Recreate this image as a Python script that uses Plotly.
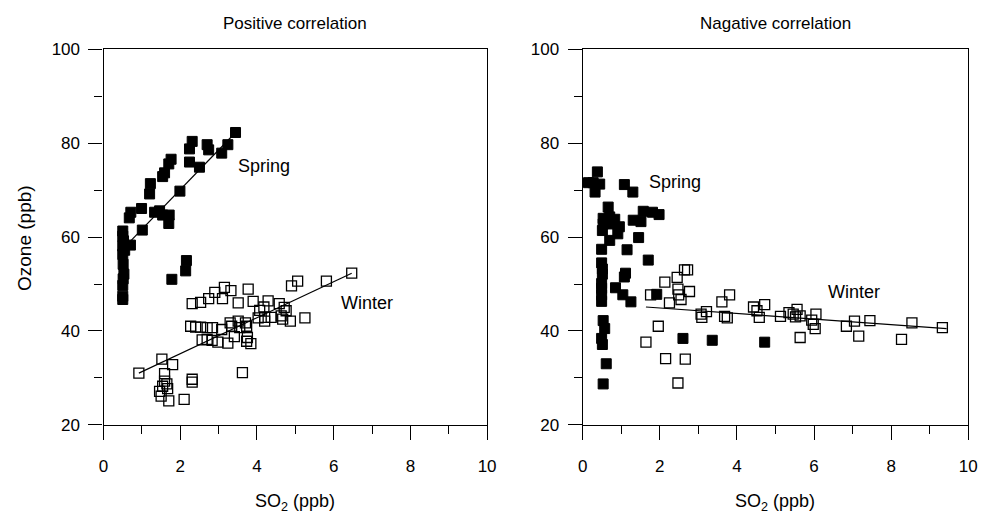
import plotly.graph_objects as go

# ---------------- data ----------------
titles = ["Positive correlation", "Nagative correlation"]
x_title = "SO<sub>2</sub> (ppb)"
y_title = "Ozone (ppb)"

# Left panel: spring (filled squares)
pos_spring_x = [3.44, 3.24, 3.08, 2.70, 2.74, 2.31, 2.24, 2.50, 2.24, 1.99, 1.76, 1.70, 1.59, 1.54,
                1.22, 1.20, 0.99, 0.71, 0.67, 1.33, 1.46, 1.54, 1.71, 1.70, 1.01, 0.70, 0.50, 0.50,
                0.52, 0.50, 0.55, 0.50, 0.51, 0.53, 0.51, 0.50, 0.50, 0.50, 1.78, 2.16, 2.14]
pos_spring_y = [82.3, 79.7, 77.9, 79.7, 78.6, 80.4, 78.8, 74.9, 76.0, 69.8, 76.6, 75.6, 73.7, 72.9,
                71.4, 69.2, 66.1, 65.3, 64.1, 65.3, 65.6, 64.7, 64.7, 62.9, 61.5, 58.3, 61.3, 60.2,
                59.2, 58.1, 57.2, 56.3, 54.2, 52.1, 51.1, 49.7, 47.4, 46.7, 51.0, 55.0, 52.8]
pos_spring_fit_x = [0.60, 3.44]
pos_spring_fit_y = [58.3, 82.3]

# Left panel: winter (open squares)
pos_winter_x = [0.92, 1.52, 1.80, 1.59, 1.59, 1.65, 1.54, 1.67, 1.46, 1.50, 1.70, 2.10, 2.31, 2.31,
                3.62, 6.47, 5.81, 5.06, 4.90, 3.77, 3.15, 3.32, 2.90, 2.74, 2.53, 2.31, 3.10, 3.51,
                3.90, 4.29, 4.58, 4.18, 4.07, 4.71, 4.76, 4.03, 4.20, 4.20, 4.37, 4.63, 4.67, 4.87,
                5.25, 2.27, 2.40, 2.53, 2.70, 2.84, 3.08, 3.30, 3.34, 3.51, 3.55, 3.70, 3.73, 2.57,
                2.70, 2.83, 2.98, 3.24, 3.41, 3.73, 3.75, 3.84]
pos_winter_y = [31.0, 34.0, 32.8, 30.9, 29.3, 28.7, 28.2, 27.7, 27.1, 26.1, 25.1, 25.4, 29.7, 29.1,
                31.1, 52.3, 50.6, 50.6, 49.6, 48.9, 49.3, 48.6, 48.2, 46.9, 46.1, 45.8, 46.9, 46.0,
                46.3, 46.4, 45.8, 45.1, 44.4, 45.0, 44.3, 42.8, 42.9, 42.1, 42.9, 43.2, 42.5, 42.1,
                42.8, 41.0, 40.8, 40.8, 40.7, 40.7, 40.3, 41.7, 41.0, 42.1, 40.7, 41.7, 41.0, 38.1,
                38.2, 38.0, 37.6, 37.4, 38.8, 37.8, 38.6, 37.3]
pos_winter_fit_x = [0.92, 6.47]
pos_winter_fit_y = [31.0, 52.3]

# Right panel: spring (filled squares)
neg_spring_x = [0.38, 0.15, 0.27, 0.44, 0.32, 1.08, 1.30, 0.66, 0.53, 0.70, 0.83, 0.53, 0.51, 0.77,
                0.95, 0.91, 1.57, 1.81, 1.98, 1.31, 1.51, 1.45, 0.70, 0.49, 1.15, 1.70, 0.49, 0.51,
                0.51, 1.11, 1.08, 0.49, 0.49, 0.49, 0.49, 0.85, 1.04, 1.25, 1.92, 0.53, 0.57, 0.49,
                0.51, 0.61, 0.53, 2.60, 3.36, 4.72]
neg_spring_y = [73.9, 71.6, 71.6, 71.3, 69.6, 71.2, 69.6, 66.4, 64.0, 64.3, 63.8, 62.8, 61.4, 62.8,
                62.2, 60.7, 65.5, 65.3, 64.8, 63.6, 63.3, 59.9, 59.3, 57.4, 57.3, 55.1, 54.5, 53.2,
                52.1, 52.3, 51.5, 50.1, 49.1, 47.7, 46.3, 49.2, 47.7, 46.2, 47.8, 42.2, 40.5, 38.4,
                37.1, 33.0, 28.7, 38.4, 38.0, 37.6]

# Right panel: winter (open squares)
neg_winter_x = [1.76, 2.13, 2.45, 2.64, 2.72, 2.47, 2.77, 2.49, 2.55, 2.25, 1.96, 1.64, 2.15, 2.66,
                2.47, 3.07, 3.09, 3.21, 3.61, 3.81, 3.68, 3.75, 4.43, 4.72, 4.52, 4.58, 5.13, 5.35,
                5.46, 5.56, 5.52, 5.64, 5.64, 5.94, 5.98, 6.03, 6.05, 6.84, 7.05, 7.16, 7.45, 8.27,
                8.54, 9.33]
neg_winter_y = [47.7, 50.4, 51.4, 53.0, 53.0, 48.9, 48.4, 47.7, 46.7, 46.0, 41.0, 37.6, 34.1, 34.0,
                28.9, 43.6, 42.9, 44.1, 46.2, 47.7, 43.1, 42.8, 45.1, 45.6, 44.3, 42.9, 43.1, 43.9,
                43.6, 44.6, 43.0, 43.2, 38.6, 42.3, 41.4, 40.5, 43.6, 41.0, 42.1, 38.9, 42.2, 38.2,
                41.7, 40.7]
neg_winter_fit_x = [1.64, 9.44]
neg_winter_fit_y = [45.1, 40.5]

labels_pos = [("Spring", 4.18, 75.1), ("Winter", 6.86, 46.0)]
labels_neg = [("Spring", 2.40, 71.8), ("Winter", 7.05, 48.4)]

x_ticks = [0, 2, 4, 6, 8, 10]
y_ticks = [20, 40, 60, 80, 100]

# ---------------- figure ----------------
W, H = 992, 520
FONT = "Liberation Sans Narrow, Arial Narrow, Liberation Sans, Arial, sans-serif"

fig = go.Figure()

filled = dict(symbol="square", size=10, color="black", line=dict(color="black", width=1))
opened = dict(symbol="square-open", size=10, color="black", line=dict(width=1.3))

def add_panel(xa, ya, sx, sy, wx, wy, fits):
    fig.add_trace(go.Scatter(x=wx, y=wy, mode="markers", marker=opened, xaxis=xa, yaxis=ya,
                             showlegend=False, cliponaxis=False))
    fig.add_trace(go.Scatter(x=sx, y=sy, mode="markers", marker=filled, xaxis=xa, yaxis=ya,
                             showlegend=False, cliponaxis=False))
    for fx, fy in fits:
        fig.add_trace(go.Scatter(x=fx, y=fy, mode="lines", line=dict(color="black", width=1.2),
                                 xaxis=xa, yaxis=ya, showlegend=False))

add_panel("x", "y", pos_spring_x, pos_spring_y, pos_winter_x, pos_winter_y,
          [(pos_spring_fit_x, pos_spring_fit_y), (pos_winter_fit_x, pos_winter_fit_y)])
add_panel("x2", "y2", neg_spring_x, neg_spring_y, neg_winter_x, neg_winter_y,
          [(neg_winter_fit_x, neg_winter_fit_y)])

x_dom = [[100 / W, 489 / W], [586 / W, 977 / W]]
y_dom = [(H - 431.5) / H, (H - 42) / H]

axis_common = dict(showgrid=False, zeroline=False, showline=True, linecolor="black", linewidth=1.3,
                   mirror=True, ticks="outside", ticklen=14, tickwidth=1.3, tickcolor="black",
                   tickfont=dict(family=FONT, size=17, color="black"))

xcommon = dict(axis_common, range=[0, 10], tickvals=x_ticks, ticklabelstandoff=12,
               minor=dict(dtick=1, tick0=1, ticks="outside", ticklen=8, tickwidth=1.2, tickcolor="black"))
ycommon = dict(axis_common, range=[20, 100], tickvals=y_ticks, ticklabelstandoff=5,
               minor=dict(dtick=10, tick0=10, ticks="outside", ticklen=8, tickwidth=1.2, tickcolor="black"))

fig.update_layout(
    width=W, height=H, margin=dict(l=0, r=0, t=0, b=0),
    paper_bgcolor="white", plot_bgcolor="white",
    xaxis=dict(xcommon, domain=x_dom[0], anchor="y"),
    yaxis=dict(ycommon, domain=y_dom, anchor="x"),
    xaxis2=dict(xcommon, domain=x_dom[1], anchor="y2"),
    yaxis2=dict(ycommon, domain=y_dom, anchor="x2"),
)

ann = []
for i, t in enumerate(titles):
    cx = (x_dom[i][0] + x_dom[i][1]) / 2
    ann.append(dict(text=t, x=cx, y=1 - 15 / H, xref="paper", yref="paper", showarrow=False,
                    xanchor="center", yanchor="middle", font=dict(family=FONT, size=17, color="black")))
    ann.append(dict(text=x_title, x=cx, y=1 - 512 / H, xref="paper", yref="paper", showarrow=False,
                    xanchor="center", yanchor="middle", font=dict(family=FONT, size=18, color="black")))
ann.append(dict(text=y_title, x=20 / W, y=1 - 238 / H, xref="paper", yref="paper", showarrow=False,
                textangle=-90, xanchor="center", yanchor="middle",
                font=dict(family=FONT, size=19, color="black")))
for txt, lx, ly in labels_pos:
    ann.append(dict(text=txt, x=lx, y=ly, xref="x", yref="y", showarrow=False,
                    font=dict(family=FONT, size=18, color="black")))
for txt, lx, ly in labels_neg:
    ann.append(dict(text=txt, x=lx, y=ly, xref="x2", yref="y2", showarrow=False,
                    font=dict(family=FONT, size=18, color="black")))
fig.update_layout(annotations=ann)

fig.write_html("out.html")
